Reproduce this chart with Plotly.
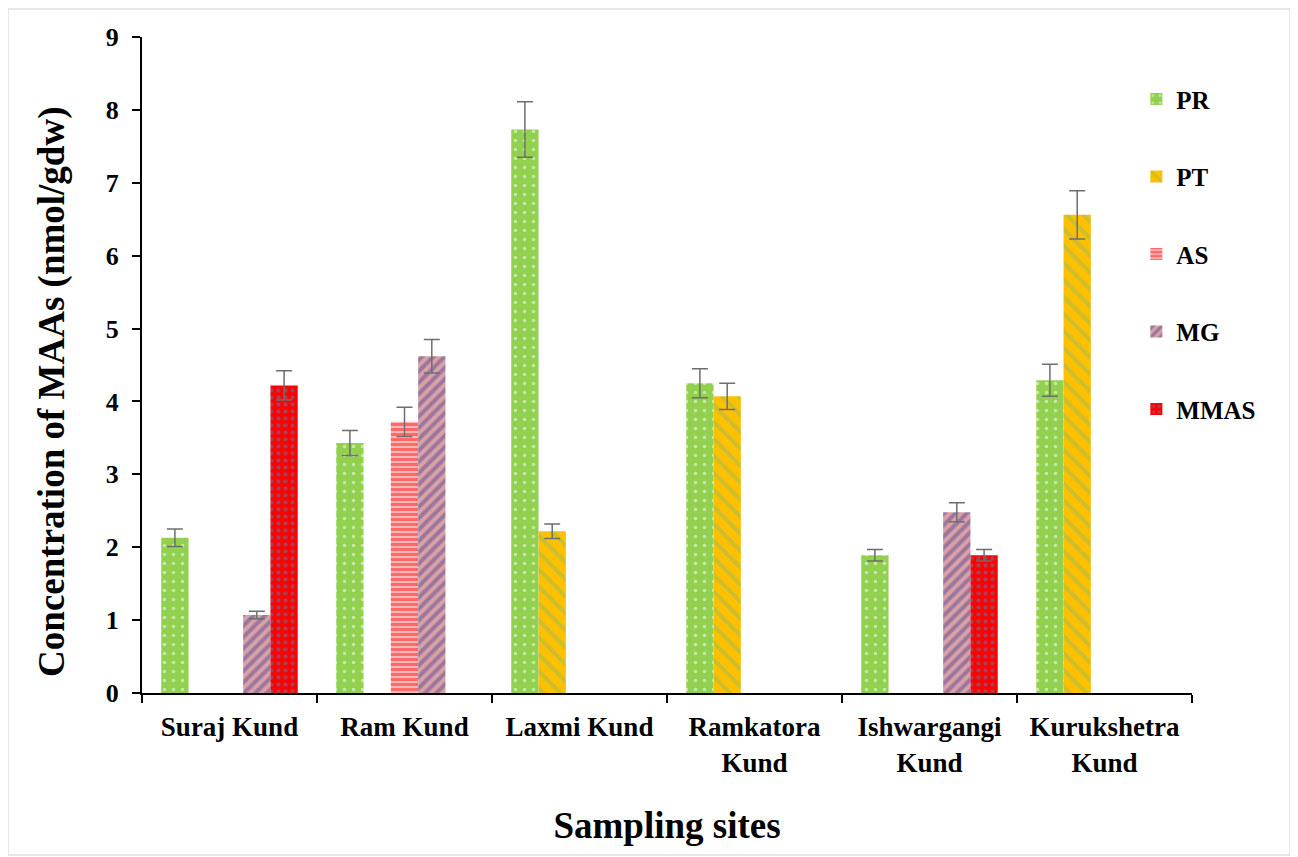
import plotly.graph_objects as go

sites = ["Suraj Kund", "Ram Kund", "Laxmi Kund", "Ramkatora<br>Kund", "Ishwargangi<br>Kund", "Kurukshetra<br>Kund"]

PR = [2.13, 3.43, 7.73, 4.25, 1.89, 4.29]
PR_err = [0.12, 0.17, 0.38, 0.20, 0.08, 0.22]
PT = [None, None, 2.22, 4.07, None, 6.56]
PT_err = [None, None, 0.10, 0.18, None, 0.33]
AS = [None, 3.72, None, None, None, None]
AS_err = [None, 0.20, None, None, None, None]
MG = [1.07, 4.62, None, None, 2.48, None]
MG_err = [0.05, 0.23, None, None, 0.13, None]
MMAS = [4.22, None, None, None, 1.89, None]
MMAS_err = [0.20, None, None, None, 0.08, None]

series = [
    ("PR", PR, PR_err, dict(shape=".", bgcolor="#92D050", fgcolor="#FFFFFF", size=9, solidity=0.12)),
    ("PT", PT, PT_err, dict(shape="\\", bgcolor="#FFC000", fgcolor="#9BBB59", size=12, solidity=0.35)),
    ("AS", AS, AS_err, dict(shape="-", bgcolor="#FFB8B8", fgcolor="#FF1A1A", size=5, solidity=0.6)),
    ("MG", MG, MG_err, dict(shape="/", bgcolor="#D9A0A8", fgcolor="#5E4F8E", size=8, solidity=0.5)),
    ("MMAS", MMAS, MMAS_err, dict(shape=".", bgcolor="#FF0000", fgcolor="#4F7FA8", size=7, solidity=0.3)),
]

fig = go.Figure()
for name, vals, errs, pat in series:
    fig.add_trace(go.Bar(
        name=name, x=sites, y=vals,
        marker=dict(color=pat["bgcolor"], line=dict(width=0),
                    pattern=dict(fillmode="overlay", **pat)),
        error_y=dict(type="data", array=errs, visible=True, color="#6E6E6E", thickness=1.5, width=8),
        legendgroup=name,
    ))

font_family = "Liberation Serif, Times New Roman, serif"
fig.update_layout(
    width=1298, height=857,
    margin=dict(l=134, r=114, t=29, b=172),
    paper_bgcolor="white", plot_bgcolor="white",
    barmode="group", bargap=0.22, bargroupgap=0,
    font=dict(family=font_family, color="black"),
    legend=dict(x=0.947, y=0.94, xanchor="left", yanchor="top",
                font=dict(family=font_family, size=25, color="black", weight="bold"),
                tracegroupgap=42, itemwidth=30),
    xaxis=dict(
        showline=True, linecolor="black", linewidth=2,
        ticks="outside", tickson="boundaries", ticklen=8, tickwidth=2, tickcolor="black",
        tickfont=dict(family=font_family, size=27, color="black", weight="bold"),
        ticklabelstandoff=9,
        title=dict(text="<b>Sampling sites</b>", font=dict(family=font_family, size=37, color="black"), standoff=36),
    ),
    yaxis=dict(
        range=[0, 9], dtick=1, showgrid=False, zeroline=False,
        showline=True, linecolor="black", linewidth=2,
        ticks="outside", ticklen=8, tickwidth=2, tickcolor="black",
        tickfont=dict(family=font_family, size=26, color="black", weight="bold"),
        ticklabelstandoff=8,
    ),
    annotations=[dict(text="<b>Concentration of MAAs (nmol/gdw)</b>", textangle=-90,
                      xref="paper", yref="paper", x=-0.0857, y=0.459,
                      xanchor="center", yanchor="middle", showarrow=False,
                      font=dict(family=font_family, size=37, color="black"))],
    shapes=[dict(type="rect", xref="paper", yref="paper",
                 x0=-0.1276, x1=1.0933, y0=-0.247, y1=1.0427,
                 line=dict(color="#D0D0D0", width=1), fillcolor="rgba(0,0,0,0)", layer="below")],
)

fig.write_html("out.html")
